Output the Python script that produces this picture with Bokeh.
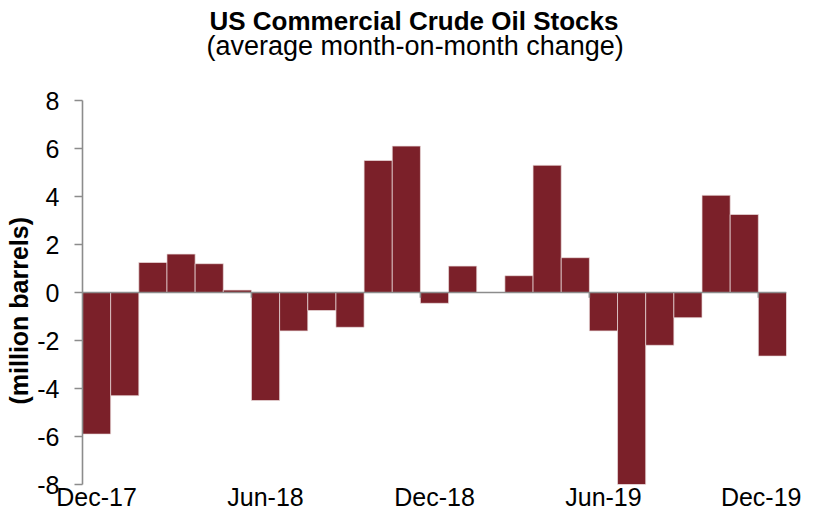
import math
from bokeh.plotting import figure
from bokeh.models import Range1d, FixedTicker, Title, Span
from bokeh.embed import file_html
from bokeh.resources import INLINE

# ---- data ----
months = ["Dec-17", "Jan-18", "Feb-18", "Mar-18", "Apr-18", "May-18", "Jun-18",
          "Jul-18", "Aug-18", "Sep-18", "Oct-18", "Nov-18", "Dec-18",
          "Jan-19", "Feb-19", "Mar-19", "Apr-19", "May-19", "Jun-19",
          "Jul-19", "Aug-19", "Sep-19", "Oct-19", "Nov-19", "Dec-19"]
changes = [-5.9, -4.3, 1.25, 1.6, 1.2, 0.1, -4.5,
           -1.6, -0.75, -1.45, 5.5, 6.1, -0.45,
           1.1, 0.0, 0.7, 5.3, 1.45, -1.6,
           -8.0, -2.2, -1.05, 4.05, 3.25, -2.65]
y_ticks = [-8, -6, -4, -2, 0, 2, 4, 6, 8]
label_every = 6
title_text = "US Commercial Crude Oil Stocks"
subtitle_text = "(average month-on-month change)"
ylabel_text = "(million barrels)"

FONT = "Liberation Sans"
BAR = "#7B2029"
AXIS = "#8C8C8C"

xs = list(range(len(months)))
label_idx = list(range(0, len(months), label_every))
boundary = [i - 0.5 for i in range(label_every, len(months), label_every)]

p = figure(width=801, height=513, output_backend="svg", toolbar_location=None,
           x_range=Range1d(-0.5, len(months) - 0.5),
           y_range=Range1d(min(y_ticks), max(y_ticks)),
           min_border_left=81, min_border_right=15,
           min_border_top=100, min_border_bottom=29,
           background_fill_color="white", border_fill_color="white")
p.outline_line_color = None
p.grid.visible = False

p.vbar(x=xs, top=changes, width=1.0, fill_color=BAR,
       line_color="#EBDCDC", line_width=0.7)

# zero line and category-group tick marks on it
p.add_layout(Span(location=0, dimension="width", line_color=AXIS, line_width=1.6))
p.segment(x0=boundary, y0=[0] * len(boundary), x1=boundary,
          y1=[-0.22] * len(boundary), line_color=AXIS, line_width=1.6)

# bottom axis: labels only
xa = p.xaxis[0]
xa.ticker = FixedTicker(ticks=label_idx)
xa.major_label_overrides = {i: months[i] for i in label_idx}
xa.axis_line_color = None
xa.major_tick_line_color = None
xa.minor_tick_line_color = None
xa.major_label_standoff = -8
xa.major_label_text_font = FONT
xa.major_label_text_font_size = "25px"
xa.major_label_text_color = "black"

# y axis
ya = p.yaxis[0]
ya.ticker = FixedTicker(ticks=y_ticks)
ya.major_label_overrides = {t: str(t) for t in y_ticks}
ya.axis_line_color = AXIS
ya.axis_line_width = 1.6
ya.major_tick_line_color = AXIS
ya.major_tick_line_width = 1.6
ya.major_tick_out = 8
ya.major_tick_in = 0
ya.minor_tick_line_color = None
ya.major_label_standoff = 15
ya.major_label_text_font = FONT
ya.major_label_text_font_size = "25px"
ya.major_label_text_color = "black"

p.add_layout(Title(text=ylabel_text, align="left", offset=80, standoff=4,
                   text_font=FONT, text_font_size="25px",
                   text_font_style="bold", text_color="black"), "left")

# titles (stacked top-down in the above panel)
p.title.text = title_text
p.title.align = "left"
p.title.offset = 127
p.title.standoff = 0
p.title.text_font = FONT
p.title.text_font_size = "26px"
p.title.text_font_style = "bold"
p.title.text_color = "black"
# spacer between subtitle and plot frame
p.add_layout(Title(text=" ", standoff=44, text_font_size="1px"), "above")
p.add_layout(Title(text=subtitle_text, align="left", offset=124, standoff=-14,
                   text_font=FONT, text_font_size="27px",
                   text_font_style="normal", text_color="black"), "above")

open("out.html", "w").write(file_html(p, INLINE))
